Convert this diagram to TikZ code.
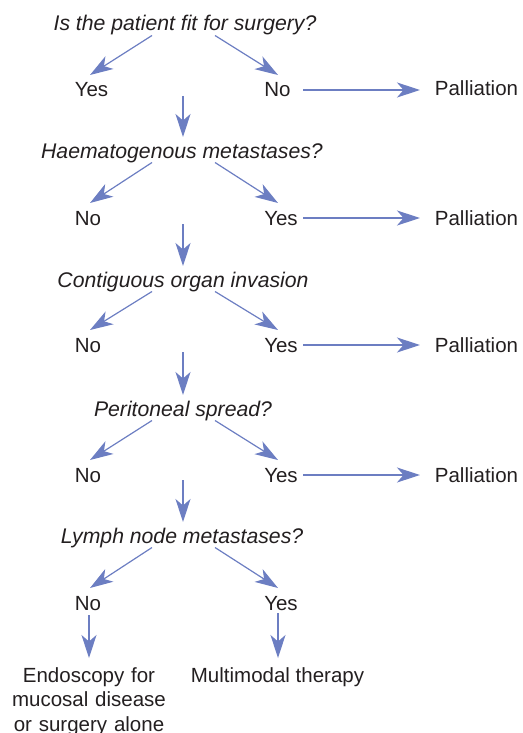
\documentclass[tikz,border=0pt]{standalone}
\usepackage{fontspec}
\setmainfont{Liberation Sans}
\usetikzlibrary{arrows.meta}
\definecolor{arrowblue}{RGB}{108,126,194}
\definecolor{txt}{RGB}{35,31,32}
\begin{document}
\begin{tikzpicture}[x=1pt,y=-1pt,
  every node/.style={inner sep=0pt, text=txt, font=\fontsize{20.5}{24.6}\selectfont},
  q/.style={anchor=base, font=\fontsize{21.2}{25}\selectfont\itshape},
  ans/.style={anchor=base},
  arr/.style={draw=arrowblue, line width=1.2pt, -{Stealth[length=23pt,width=15pt,inset=6.5pt]}}]
\useasboundingbox (0,0) rectangle (522,733);
% questions
\node[q] (q1) at (185,31) {Is the patient fit for surgery?};
\node[q] (q2) at (182,158) {Haematogenous metastases?};
\node[q] (q3) at (183,287) {Contiguous organ invasion};
\node[q] (q4) at (183,416) {Peritoneal spread?};
\node[q] (q5) at (182,543) {Lymph node metastases?};
% answers
\node[ans] (a1l) at (91.5,97) {Yes};
\node[ans] (a1r) at (277.5,97) {No};
\node[ans] (p1) at (476.5,96) {Palliation};
\node[ans] (a2l) at (88,225) {No};
\node[ans] (a2r) at (281,225) {Yes};
\node[ans] (p2) at (476.5,225) {Palliation};
\node[ans] (a3l) at (88,352) {No};
\node[ans] (a3r) at (281,352) {Yes};
\node[ans] (p3) at (476.5,352) {Palliation};
\node[ans] (a4l) at (88,482) {No};
\node[ans] (a4r) at (281,482) {Yes};
\node[ans] (p4) at (476.5,482) {Palliation};
\node[ans] (a5l) at (88,610) {No};
\node[ans] (a5r) at (281,610) {Yes};
\node[anchor=base, text width=170pt, align=center] (e) at (89,682) {Endoscopy for\\mucosal disease\\or surgery alone};
\node[ans] (m) at (277.5,682) {Multimodal therapy};
% diagonal arrows
\draw[arr] ([xshift=-33pt,yshift=-4.5pt]q1.base) -- ([xshift=-1.5pt,yshift=22pt]a1l.base);
\draw[arr] ([xshift=30pt,yshift=-4.5pt]q1.base) -- ([xshift=0.5pt,yshift=22pt]a1r.base);
\draw[arr] ([xshift=-30pt,yshift=-4.5pt]q2.base) -- ([xshift=2pt,yshift=22pt]a2l.base);
\draw[arr] ([xshift=33pt,yshift=-4.5pt]q2.base) -- ([xshift=-3pt,yshift=22pt]a2r.base);
\draw[arr] ([xshift=-31pt,yshift=-4.5pt]q3.base) -- ([xshift=2pt,yshift=22pt]a3l.base);
\draw[arr] ([xshift=32pt,yshift=-4.5pt]q3.base) -- ([xshift=-3pt,yshift=22pt]a3r.base);
\draw[arr] ([xshift=-31pt,yshift=-4.5pt]q4.base) -- ([xshift=2pt,yshift=22pt]a4l.base);
\draw[arr] ([xshift=32pt,yshift=-4.5pt]q4.base) -- ([xshift=-3pt,yshift=22pt]a4r.base);
\draw[arr] ([xshift=-30pt,yshift=-4.5pt]q5.base) -- ([xshift=2pt,yshift=22pt]a5l.base);
\draw[arr] ([xshift=33pt,yshift=-4.5pt]q5.base) -- ([xshift=-3pt,yshift=22pt]a5r.base);
% vertical arrows between questions
\draw[arr, shorten <=65pt, shorten >=21pt] ([xshift=-2pt]q1.base) -- ([xshift=1pt]q2.base);
\draw[arr, shorten <=66pt, shorten >=21pt] ([xshift=1pt]q2.base) -- (q3.base);
\draw[arr, shorten <=65pt, shorten >=21pt] (q3.base) -- (q4.base);
\draw[arr, shorten <=64pt, shorten >=21pt] (q4.base) -- ([xshift=1pt]q5.base);
% horizontal arrows to Palliation
\draw[arr, shorten <=25.5pt, shorten >=56.5pt] ([yshift=7pt]a1r.base) -- ([yshift=6pt]p1.base);
\draw[arr, shorten <=22pt, shorten >=56.5pt] ([yshift=7pt]a2r.base) -- ([yshift=7pt]p2.base);
\draw[arr, shorten <=22pt, shorten >=56.5pt] ([yshift=7pt]a3r.base) -- ([yshift=7pt]p3.base);
\draw[arr, shorten <=22pt, shorten >=56.5pt] ([yshift=7pt]a4r.base) -- ([yshift=7pt]p4.base);
% bottom arrows
\draw[arr] ([xshift=1pt,yshift=-5pt]a5l.base) -- ([yshift=24pt]e.base);
\draw[arr] ([xshift=-3pt,yshift=-3pt]a5r.base) -- ([xshift=0.5pt,yshift=24pt]m.base);
\end{tikzpicture}
\end{document}
